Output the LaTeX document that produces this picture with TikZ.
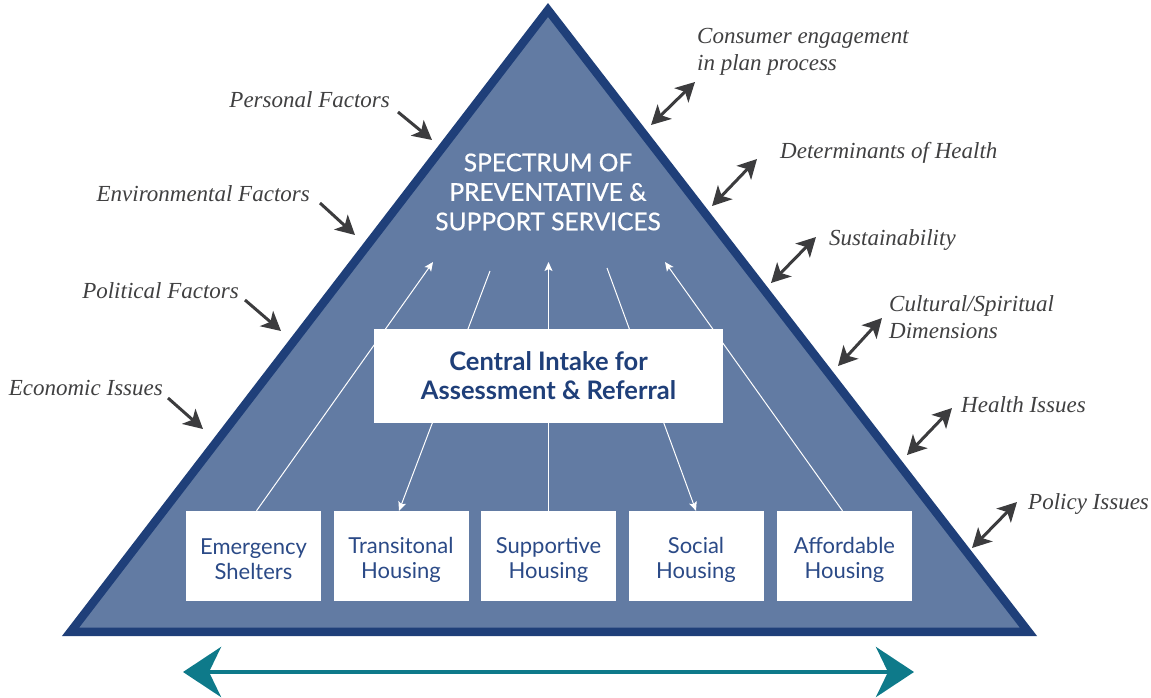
\documentclass[tikz,border=0pt]{standalone}
\usepackage{fontspec}
\newfontfamily\sansf{Lato}
\newfontfamily\sansmed[FakeBold=0.6]{Lato}
\newfontfamily\labelserif{Liberation Serif}
\usetikzlibrary{arrows.meta}
\definecolor{trifill}{HTML}{627BA3}
\definecolor{triborder}{HTML}{1F3F79}
\definecolor{boxtext}{HTML}{2B4A87}
\definecolor{labgray}{HTML}{404041}
\definecolor{arrgray}{HTML}{3C3C3E}
\definecolor{tealarrow}{HTML}{0E7A8A}
\tikzset{
  housebox/.style={fill=white, minimum width=135pt, minimum height=90pt, inner sep=0pt},
  housetext/.style={align=center, inner sep=0pt, text=boxtext, font=\sansf\fontsize{22}{25}\selectfont},
  intakebox/.style={fill=white, minimum width=349pt, minimum height=94pt, inner sep=0pt, align=center, text=triborder, font=\sansf\bfseries\fontsize{25.5}{29}\selectfont},
  titletext/.style={text=white, align=center, inner sep=0pt, font=\sansmed\fontsize{24.5}{29.5}\selectfont},
  factor/.style={text=labgray, inner sep=0pt, font=\labelserif\itshape\fontsize{23}{27}\selectfont},
  warrow/.style={draw=white, line width=1pt, -{Stealth[length=9pt,width=8pt,inset=2pt]}},
  inarrow/.style={draw=arrgray, line width=3pt, -{Stealth[length=19pt,width=20pt,inset=5pt]}},
  biarrow/.style={draw=arrgray, line width=3pt, {Stealth[length=19pt,width=20pt,inset=5pt]}-{Stealth[length=19pt,width=20pt,inset=5pt]}},
  spanarrow/.style={draw=tealarrow, line width=4.5pt, {Stealth[length=38pt,width=50pt,inset=12pt]}-{Stealth[length=38pt,width=50pt,inset=12pt]}}
}
\begin{document}
\begin{tikzpicture}[x=1pt,y=-1pt]
\useasboundingbox (0,0) rectangle (1151,697);
% triangle
\filldraw[fill=trifill, draw=triborder, line width=8.5pt, line join=miter] (548,10) -- (70.6,631.75) -- (1028.4,631.75) -- cycle;
% title
\node[titletext] (title) at (548,192) {SPECTRUM OF\\PREVENTATIVE \&\\SUPPORT SERVICES};
% housing boxes
\node[housebox] (b1) at (253.5,556) {};
\node[housebox] (b2) at (401,556) {};
\node[housebox] (b3) at (548.5,556) {};
\node[housebox] (b4) at (696,556) {};
\node[housebox] (b5) at (844.5,556) {};
\node[housetext, yshift=-3.5pt] (b1t) at (b1) {Emergency\\Shelters};
\node[housetext, yshift=-3.5pt] (b2t) at (b2) {Transitonal\\Housing};
\node[housetext, yshift=-3.5pt] (b3t) at (b3) {Supportive\\Housing};
\node[housetext, yshift=-3.5pt] (b4t) at (b4) {Social\\Housing};
\node[housetext, yshift=-3.5pt] (b5t) at (b5) {Affordable\\Housing};
% inner arrows
\coordinate (t1) at (433,262);
\coordinate (t2) at (490,271);
\coordinate (t3) at (548.5,262);
\coordinate (t4) at (607,268);
\coordinate (t5) at (665,262);
\draw[warrow] ([xshift=3pt]b1.north) -- (t1);
\draw[warrow] (t2) -- ([xshift=-2pt]b2.north);
\draw[warrow] (b3.north) -- (t3);
\draw[warrow] (t4) -- (b4.north);
\draw[warrow] ([xshift=-2pt]b5.north) -- (t5);
% central intake
\node[intakebox] (ci) at (548.5,376) {Central Intake for\\Assessment \& Referral};
% left factors
\node[factor, anchor=base east] (pf) at (390,107) {Personal Factors};
\node[factor, anchor=base east] (ef) at (310,201) {Environmental Factors};
\node[factor, anchor=base east] (plf) at (239,298) {Political Factors};
\node[factor, anchor=base east] (eci) at (163,395) {Economic Issues};
\coordinate (pfa) at (398,112); \coordinate (pfb) at (432,140);
\coordinate (efa) at (320,203); \coordinate (efb) at (355,235);
\coordinate (plfa) at (245,300); \coordinate (plfb) at (281,331);
\coordinate (ecia) at (168,398); \coordinate (ecib) at (203,429);
\draw[inarrow] (pfa) -- (pfb);
\draw[inarrow] (efa) -- (efb);
\draw[inarrow] (plfa) -- (plfb);
\draw[inarrow] (ecia) -- (ecib);
% right factors
\node[factor, anchor=west, align=left] (ce) at (697,52) {Consumer engagement\\in plan process};
\node[factor, anchor=base west] (dh) at (780,158) {Determinants of Health};
\node[factor, anchor=base west] (su) at (829,245) {Sustainability};
\node[factor, anchor=west, align=left] (cs) at (889,317) {Cultural/Spiritual\\Dimensions};
\node[factor, anchor=base west] (hi) at (961,412) {Health Issues};
\node[factor, anchor=base west] (pi) at (1028,509) {Policy Issues};
\coordinate (cea) at (651,125); \coordinate (ceb) at (695,82);
\coordinate (dha) at (712,206); \coordinate (dhb) at (757,159);
\coordinate (sua) at (771,283); \coordinate (sub) at (816,237);
\coordinate (csa) at (838,366); \coordinate (csb) at (882,318);
\coordinate (hia) at (907,455); \coordinate (hib) at (952,408);
\coordinate (pia) at (972,548); \coordinate (pib) at (1017,502);
\draw[biarrow] (cea) -- (ceb);
\draw[biarrow] (dha) -- (dhb);
\draw[biarrow] (sua) -- (sub);
\draw[biarrow] (csa) -- (csb);
\draw[biarrow] (hia) -- (hib);
\draw[biarrow] (pia) -- (pib);
% bottom span arrow
\coordinate (sa) at (183,672);
\coordinate (sb) at (914,672);
\draw[spanarrow] (sa) -- (sb);
\end{tikzpicture}
\end{document}
